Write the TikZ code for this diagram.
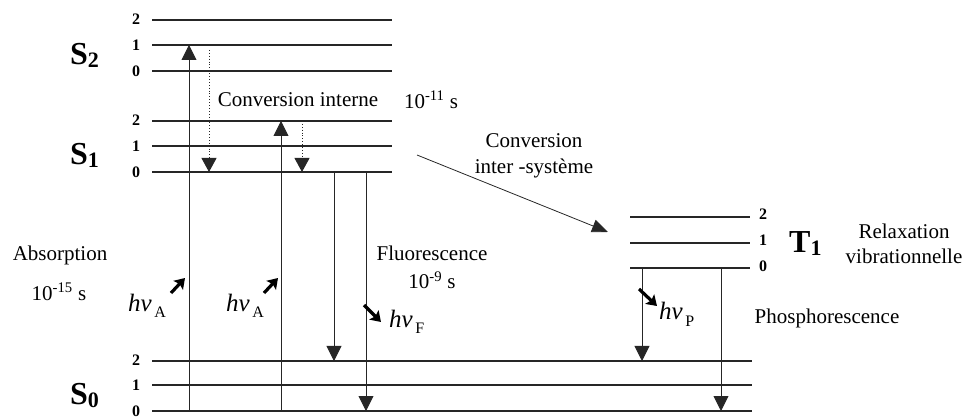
\documentclass[tikz,border=0pt]{standalone}
\usepackage{fontspec}
\setmainfont{Liberation Serif}
\usetikzlibrary{arrows.meta}
\begin{document}
\begin{tikzpicture}[x=1pt,y=-1pt,
  lvline/.style={draw=black!85, line width=1.1pt},
  lvnum/.style={font=\fontsize{16}{16}\selectfont\bfseries, inner sep=0pt},
  txt/.style={font=\fontsize{21}{21}\selectfont, inner sep=0pt},
  bigarrow/.style={draw=black!85, line width=0.9pt, -{Triangle[width=15pt,length=15pt]}},
  dotarrow/.style={draw=black!85, line width=0.9pt, dotted, -{Triangle[width=15pt,length=14pt]}},
  iscarrow/.style={draw=black!85, line width=0.8pt, -{Triangle[width=13pt,length=16pt]}},
  photon/.style={draw=black, line width=3.2pt, -{Stealth[width=13pt,length=10pt,inset=2pt]}},
  statelbl/.style={inner sep=0pt, anchor=base west},
  hvlbl/.style={inner sep=0pt, anchor=base west}
]
\useasboundingbox (0,0) rectangle (966,419);
\newcommand{\hvtext}[1]{{\fontsize{25}{25}\selectfont\itshape hv}\ \raisebox{-6pt}{\fontsize{16}{16}\selectfont #1}}
\newcommand{\statetext}[2]{{\fontsize{32}{32}\selectfont\bfseries #1}\raisebox{-3pt}{\fontsize{22}{22}\selectfont\bfseries #2}}

% ---- level coordinates ----
\foreach \n/\y in {s22/20, s21/45, s20/71, s12/121, s11/146, s10/172}{
  \coordinate (\n L) at (152,\y);
  \coordinate (\n R) at (392,\y);
}
\foreach \n/\y in {s02/361, s01/385, s00/411}{
  \coordinate (\n L) at (152,\y);
  \coordinate (\n R) at (752,\y);
}
\foreach \n/\y in {t2/217, t1/243, t0/268}{
  \coordinate (\n L) at (630,\y);
  \coordinate (\n R) at (750,\y);
}
\foreach \n in {s22,s21,s20,s12,s11,s10,s02,s01,s00,t2,t1,t0}{
  \draw[lvline] (\n L) -- (\n R);
}

% ---- level numbers ----
\node[lvnum] (n22) at (136,19) {2};
\node[lvnum] (n21) at (136,45) {1};
\node[lvnum] (n20) at (136,71) {0};
\node[lvnum] (n12) at (136,120) {2};
\node[lvnum] (n11) at (136,146) {1};
\node[lvnum] (n10) at (136,172) {0};
\node[lvnum] (n02) at (136,360) {2};
\node[lvnum] (n01) at (136,385) {1};
\node[lvnum] (n00) at (136,411) {0};
\node[lvnum] (nt2) at (763,214) {2};
\node[lvnum] (nt1) at (763,240) {1};
\node[lvnum] (nt0) at (763,266) {0};

% ---- state labels ----
\node[statelbl] (S2) at (70,65) {\statetext{S}{2}};
\node[statelbl] (S1) at (70,165) {\statetext{S}{1}};
\node[statelbl] (S0) at (70,404) {\statetext{S}{0}};
\node[statelbl] (T1) at (789,253) {\statetext{T}{1}};

% ---- arrow end points ----
\coordinate (a1s) at (189,411); \coordinate (a1e) at (189,45);
\coordinate (a2s) at (281,411); \coordinate (a2e) at (281,121);
\coordinate (d1s) at (209,50);  \coordinate (d1e) at (209,172);
\coordinate (d2s) at (302,121); \coordinate (d2e) at (302,172);
\coordinate (f1s) at (334,172); \coordinate (f1e) at (334,361);
\coordinate (f2s) at (366,172); \coordinate (f2e) at (366,411);
\coordinate (p1s) at (642,268); \coordinate (p1e) at (642,361);
\coordinate (p2s) at (721,268); \coordinate (p2e) at (721,411);
\coordinate (is) at (417,155);  \coordinate (ie) at (608,232);

\draw[bigarrow] (a1s) -- (a1e);
\draw[bigarrow] (a2s) -- (a2e);
\draw[dotarrow] (d1s) -- (d1e);
\draw[dotarrow] (d2s) -- (d2e);
\draw[bigarrow] (f1s) -- (f1e);
\draw[bigarrow] (f2s) -- (f2e);
\draw[bigarrow] (p1s) -- (p1e);
\draw[bigarrow] (p2s) -- (p2e);
\draw[iscarrow] (is) -- (ie);

% ---- photon arrows ----
\coordinate (ph1s) at (171,293); \coordinate (ph1e) at (185,278);
\coordinate (ph2s) at (264,293); \coordinate (ph2e) at (278,278);
\coordinate (ph3s) at (364,305); \coordinate (ph3e) at (381,322);
\coordinate (ph4s) at (639,289); \coordinate (ph4e) at (657,306);
\draw[photon] (ph1s) -- (ph1e);
\draw[photon] (ph2s) -- (ph2e);
\draw[photon] (ph3s) -- (ph3e);
\draw[photon] (ph4s) -- (ph4e);

% ---- hv labels ----
\node[hvlbl] (hvA1) at (128,312) {\hvtext{A}};
\node[hvlbl] (hvA2) at (226,312) {\hvtext{A}};
\node[hvlbl] (hvF) at (389,327) {\hvtext{F}};
\node[hvlbl] (hvP) at (659,320) {\hvtext{P}};

% ---- texts ----
\node[txt] (ci) at (298,100) {Conversion interne};
\node[txt] (cit) at (431,100) {10\textsuperscript{-11} s};
\node[txt, align=center, font=\fontsize{21}{26}\selectfont] (isc) at (534,156) {Conversion\\inter -système};
\node[txt] (abs) at (60,255) {Absorption};
\node[txt] (abst) at (59,292) {10\textsuperscript{-15} s};
\node[txt] (fl) at (432,253) {Fluorescence};
\node[txt] (flt) at (432,280) {10\textsuperscript{-9} s};
\node[txt, align=center, font=\fontsize{21}{25}\selectfont] (rv) at (904,244) {Relaxation\\vibrationnelle};
\node[txt] (ph) at (827,318) {Phosphorescence};
\end{tikzpicture}
\end{document}
